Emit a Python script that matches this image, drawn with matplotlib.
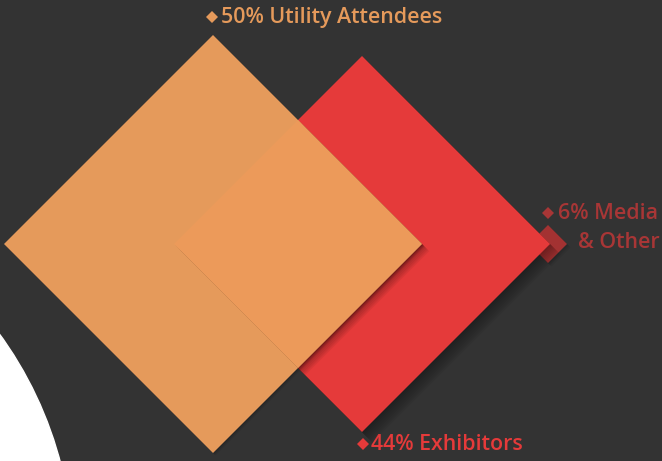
import numpy as np
import matplotlib.pyplot as plt
from matplotlib.patches import Polygon, Circle

# data
labels = ['Utility Attendees', 'Exhibitors', 'Media\n& Other']
values = [50, 44, 6]
colors = ['#E59A5B', '#E53A3A', '#A33232']
text_colors = ['#E59A5B', '#E53A3A', '#A83636']
overlap_color = '#EC9A5A'
bg = '#333333'

# layout (pixel space, y down)
W, H = 662, 461
cy = 244
centers = [213, 362, 548]
half = [209, 188, 19]

fig = plt.figure(figsize=(W / 100, H / 100), dpi=100, facecolor=bg)
ax = fig.add_axes([0, 0, 1, 1])
ax.set_xlim(0, W)
ax.set_ylim(H, 0)
ax.set_facecolor(bg)
ax.axis('off')


def diamond(cx, r, dx=0, dy=0):
    return np.array([[cx + dx, cy - r + dy], [cx + r + dx, cy + dy],
                     [cx + dx, cy + r + dy], [cx - r + dx, cy + dy]])


# white swoosh bottom left
ax.add_patch(Circle((-311, 560), 384, color='white', zorder=1))


def shadow(pts, z, n=6, step=1.2, a=0.06):
    for k in range(n, 0, -1):
        ax.add_patch(Polygon(pts + k * step, closed=True, color='black',
                             alpha=a, lw=0, zorder=z))


# small media diamond (sits behind red one)
shadow(diamond(centers[2], half[2]), 2, n=3)
ax.add_patch(Polygon(diamond(centers[2], half[2]), color=colors[2], lw=0, zorder=3))

# red exhibitors
shadow(diamond(centers[1], half[1]), 4, n=8, step=1.3, a=0.045)
ax.add_patch(Polygon(diamond(centers[1], half[1]), color=colors[1], lw=0, zorder=5))

# orange attendees
shadow(diamond(centers[0], half[0]), 6, n=3, step=0.8, a=0.08)
ax.add_patch(Polygon(diamond(centers[0], half[0]), color=colors[0], lw=0, zorder=7))

# overlap
xl = centers[1] - half[1]
xr = centers[0] + half[0]
xm = (centers[0] + half[0] + centers[1] - half[1]) / 2
hm = half[0] - (xm - centers[0])
ov = np.array([[xl, cy], [xm, cy - hm], [xr, cy], [xm, cy + hm]])
shadow(ov, 8, n=6, step=1.2, a=0.06)
ax.add_patch(Polygon(ov, color=overlap_color, lw=0, zorder=9))

font = dict(family='Open Sans', fontweight='semibold', fontsize=15.4)

# labels
ax.plot(212, 17, 'D', ms=6, color=text_colors[0], mew=0, zorder=10)
ax.text(221, 17, f'{values[0]}% {labels[0]}', color=text_colors[0],
        va='center', ha='left', **font)

ax.plot(363, 444, 'D', ms=6, color=text_colors[1], mew=0, zorder=10)
ax.text(371, 444, f'{values[1]}% {labels[1]}', color=text_colors[1],
        va='center', ha='left', **font)

ax.plot(548, 213, 'D', ms=6, color=text_colors[2], mew=0, zorder=10)
ax.text(658, 213, f'{values[2]}% ' + labels[2].split('\n')[0], color=text_colors[2],
        va='center', ha='right', **font)
ax.text(660, 242, labels[2].split('\n')[1], color=text_colors[2],
        va='center', ha='right', **font)

fig.savefig('out.png', dpi=100, facecolor=bg)
